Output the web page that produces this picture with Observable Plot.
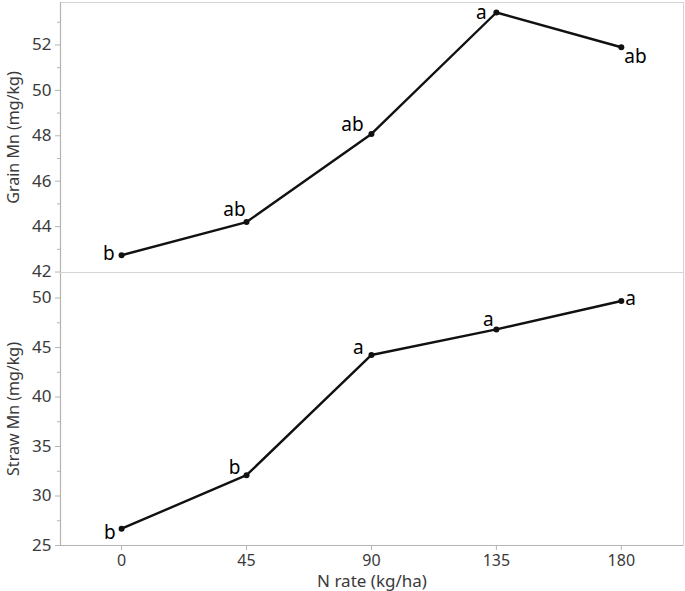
<!DOCTYPE html>
<html><head><meta charset="utf-8">
<script src="https://cdn.jsdelivr.net/npm/d3@7"></script>
<script src="https://cdn.jsdelivr.net/npm/@observablehq/plot@0.6"></script>
<style>
body{margin:0;background:#fff;}
#chart{width:685px;height:591px;}
#chart svg{display:block;overflow:visible;}
#chart svg.top{position:relative;z-index:2;}
</style></head><body><div id="chart"></div>
<script>
// ---- data ----
const nRate = [0, 45, 90, 135, 180];
const grainMn = [42.74, 44.2, 48.08, 53.43, 51.9];
const strawMn = [26.7, 32.1, 44.25, 46.83, 49.7];
const grainLetters = ["b", "ab", "ab", "a", "ab"];
const strawLetters = ["b", "b", "a", "a", "a"];
const xTicks = [0, 45, 90, 135, 180];
const grainTicks = [42, 44, 46, 48, 50, 52];
const grainMinor = [43, 45, 47, 49, 51, 53];
const strawTicks = [25, 30, 35, 40, 45, 50];
const strawMinor = [27.5, 32.5, 37.5, 42.5, 47.5];

// ---- layout (label placement offsets, px) ----
const grainPlace = [["end", -7, -1], ["middle", -12, -12], ["middle", -19, -9], ["middle", -15, 0], ["start", 3, 10]];
const strawPlace = [["end", -6, 4], ["middle", -12, -7], ["middle", -13, -7], ["middle", -8, -10], ["start", 4, -2]];

const FONT = "'Noto Sans', 'Open Sans', sans-serif";
const xDomain = [-22, 202.4];

function panel({values, letters, place, yDomain, ticks, minor, ylabel, height, marginTop, marginBottom, showX, cls}) {
  const data = nRate.map((x, i) => ({x, y: values[i], label: letters[i]}));
  const marks = [
    Plot.frame({stroke: "#d4d4d4"}),
    Plot.ruleX([xDomain[0]], {stroke: "#b4b4b4", strokeWidth: 1.2}),
    Plot.axisY(ticks, {tickSize: 5, tickPadding: 4, fontSize: 17, stroke: "#b4b4b4", fill: "#3a3a3a", label: null}),
    Plot.axisY(minor, {tickSize: 3, tickFormat: () => "", stroke: "#b4b4b4", label: null}),
    Plot.line(data, {x: "x", y: "y", stroke: "#111", strokeWidth: 2.4}),
    Plot.dot(data, {x: "x", y: "y", r: 3, fill: "#111"}),
    ...data.map((d, i) => Plot.text([d], {x: "x", y: "y", text: "label", textAnchor: place[i][0], dx: place[i][1], dy: place[i][2], fontSize: 19, fill: "#000"})),
    Plot.text([ylabel], {frameAnchor: "left", textAnchor: "middle", lineAnchor: "middle", rotate: -90, dx: -47, fontSize: 16, fill: "#3a3a3a"})
  ];
  if (showX) {
    marks.push(
      Plot.ruleY([yDomain[0]], {stroke: "#b4b4b4", strokeWidth: 1.2}),
      Plot.axisX(xTicks, {tickSize: 5, tickPadding: 4, fontSize: 16, stroke: "#b4b4b4", fill: "#3a3a3a", label: null}),
      Plot.text(["N rate (kg/ha)"], {frameAnchor: "bottom", lineAnchor: "middle", dy: 36, fontSize: 17, fill: "#3a3a3a"})
    );
  }
  const svg = Plot.plot({
    width: 685,
    height,
    marginLeft: 60,
    marginRight: 2,
    marginTop,
    marginBottom,
    style: {fontFamily: FONT, background: "transparent", overflow: "visible"},
    x: {domain: xDomain, axis: null},
    y: {domain: yDomain, axis: null},
    marks
  });
  svg.classList.add(cls);
  return svg;
}

const chart = document.getElementById("chart");
chart.append(panel({values: grainMn, letters: grainLetters, place: grainPlace, yDomain: [41.98, 53.87],
  ticks: grainTicks, minor: grainMinor, ylabel: "Grain Mn (mg/kg)", height: 272, marginTop: 2, marginBottom: 0, showX: false, cls: "top"}));
chart.append(panel({values: strawMn, letters: strawLetters, place: strawPlace, yDomain: [25, 52.58],
  ticks: strawTicks, minor: strawMinor, ylabel: "Straw Mn (mg/kg)", height: 319, marginTop: 0, marginBottom: 46, showX: true, cls: "bottom"}));
</script>
</body></html>
